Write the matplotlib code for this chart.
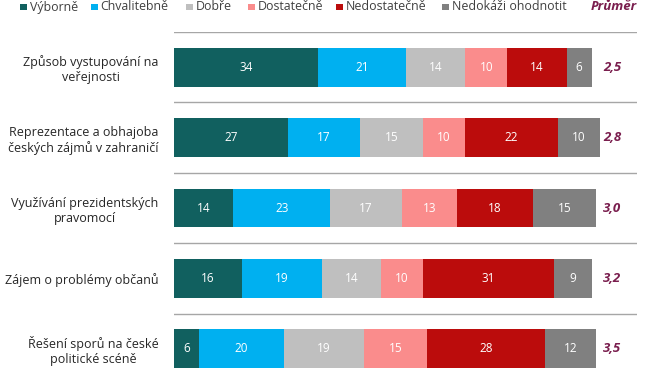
import numpy as np
import matplotlib.pyplot as plt
from matplotlib.patches import Rectangle

plt.rcParams['font.family'] = ['Open Sans', 'DejaVu Sans']

# Data
categories = ["Způsob vystupování na\nveřejnosti",
              "Reprezentace a obhajoba\nčeských zájmů v zahraničí",
              "Využívání prezidentských\npravomocí",
              "Zájem o problémy občanů",
              "Řešení sporů na české\npolitické scéně"]
series_names = ["Výborně", "Chvalitebně", "Dobře", "Dostatečně", "Nedostatečně", "Nedokáži ohodnotit"]
vyborne = [34, 27, 14, 16, 6]
chvalitebne = [21, 17, 23, 19, 20]
dobre = [14, 15, 17, 14, 19]
dostatecne = [10, 10, 13, 10, 15]
nedostatecne = [14, 22, 18, 31, 28]
nedokazi = [6, 10, 15, 9, 12]
prumer = ["2,5", "2,8", "3,0", "3,2", "3,5"]

colors = ["#11605F", "#00B0F0", "#BFBFBF", "#FA8C8C", "#BB0C0C", "#808080"]
avg_color = "#7A1E4E"

series = [vyborne, chvalitebne, dobre, dostatecne, nedostatecne, nedokazi]

W, H = 655, 368
fig = plt.figure(figsize=(W / 100, H / 100), dpi=100)
ax = fig.add_axes([174 / W, 0, 463 / W, 1 - 32 / H])

y = np.arange(len(categories))
left = np.zeros(len(categories))
for vals, col in zip(series, colors):
    vals = np.array(vals, dtype=float)
    ax.barh(y, vals, left=left, height=0.55, color=col, edgecolor='none')
    for yi, (l, v) in enumerate(zip(left, vals)):
        ax.text(l + v / 2, yi, f"{int(v)}", ha='center', va='center',
                color='white', fontsize=8.5)
    left += vals

for yi, p in enumerate(prumer):
    ax.text(101.7, yi, p, ha='left', va='center', color=avg_color,
            fontsize=9.5, fontweight='bold', style='italic')

# separators
for s in np.arange(len(categories) + 1) - 0.5:
    ax.axhline(s, color='#A6A6A6', lw=1.0)

ax.set_xlim(0, 109.7)
ax.set_ylim(-0.5 + 336 / 70.4, -0.5)
ax.set_yticks(y)
ax.set_yticklabels(categories, multialignment='center', fontsize=9, color='#262626')
ax.tick_params(axis='y', length=0, pad=11)
ax.set_xticks([])
for sp in ax.spines.values():
    sp.set_visible(False)

# legend drawn by hand to match spacing
leg_x = [20, 91, 186, 248, 336, 442]
leg_y = 7
sq = 6.5
for x0, name, col in zip(leg_x, series_names, colors):
    fig.add_artist(Rectangle((x0 / W, (H - leg_y - sq / 2) / H), sq / W, sq / H,
                             transform=fig.transFigure, facecolor=col, edgecolor='none'))
    fig.text((x0 + 9.5) / W, 1 - leg_y / H, name, ha='left', va='center',
             fontsize=8.9, color='#404040')
fig.text(614 / W, 1 - leg_y / H, "Průměr", ha='center', va='center',
         color=avg_color, fontsize=9.5, fontweight='bold', style='italic')

fig.savefig("out.png", dpi=100)
